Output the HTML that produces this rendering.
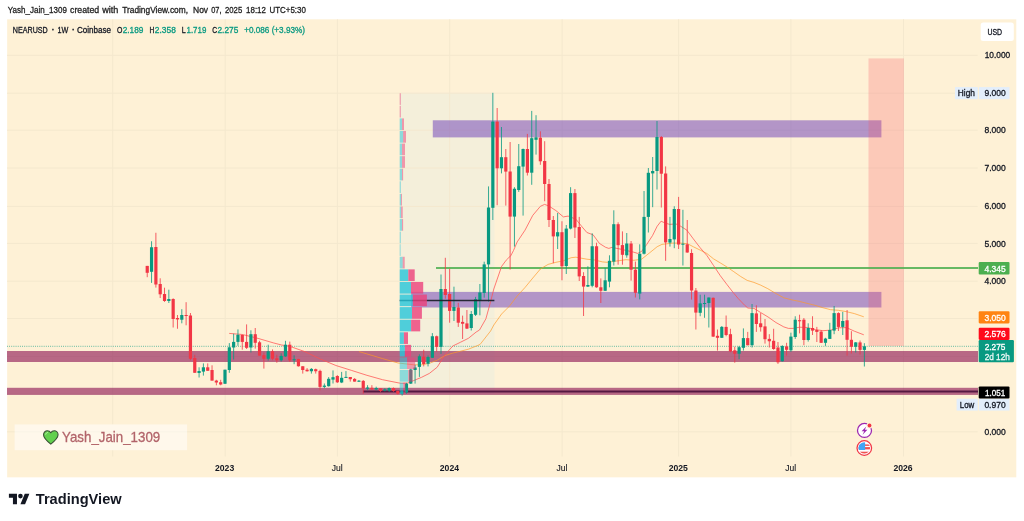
<!DOCTYPE html>
<html><head><meta charset="utf-8"><title>NEARUSD chart</title>
<style>html,body{margin:0;padding:0;background:#fff}body{width:1024px;height:521px;position:relative;overflow:hidden;font-family:"Liberation Sans",sans-serif}</style></head>
<body>
<svg width="1024" height="521" viewBox="0 0 1024 521" style="position:absolute;left:0;top:0;font-family:'Liberation Sans',sans-serif">
<rect x="7.15" y="19.3" width="1009.15" height="458.05" fill="#FEF1D6"/>
<rect x="399.7" y="92.8" width="94.8" height="302" fill="#F4EFDA"/>
<line x1="7" x2="977.7" y1="431.80" y2="431.80" stroke="#F4E8CE" stroke-width="1"/>
<line x1="7" x2="977.7" y1="394.10" y2="394.10" stroke="#F4E8CE" stroke-width="1"/>
<line x1="7" x2="977.7" y1="356.50" y2="356.50" stroke="#F4E8CE" stroke-width="1"/>
<line x1="7" x2="977.7" y1="318.50" y2="318.50" stroke="#F4E8CE" stroke-width="1"/>
<line x1="7" x2="977.7" y1="281.20" y2="281.20" stroke="#F4E8CE" stroke-width="1"/>
<line x1="7" x2="977.7" y1="243.40" y2="243.40" stroke="#F4E8CE" stroke-width="1"/>
<line x1="7" x2="977.7" y1="206.40" y2="206.40" stroke="#F4E8CE" stroke-width="1"/>
<line x1="7" x2="977.7" y1="168.00" y2="168.00" stroke="#F4E8CE" stroke-width="1"/>
<line x1="7" x2="977.7" y1="130.20" y2="130.20" stroke="#F4E8CE" stroke-width="1"/>
<line x1="7" x2="977.7" y1="93.20" y2="93.20" stroke="#F4E8CE" stroke-width="1"/>
<line x1="7" x2="977.7" y1="55.30" y2="55.30" stroke="#F4E8CE" stroke-width="1"/>
<line x1="112.7" x2="112.7" y1="19.3" y2="424.4" stroke="#F4E8CE" stroke-width="1"/>
<line x1="112.7" x2="112.7" y1="450.2" y2="456.5" stroke="#F4E8CE" stroke-width="1"/>
<line x1="225.2" x2="225.2" y1="19.3" y2="456.5" stroke="#F4E8CE" stroke-width="1"/>
<line x1="337.4" x2="337.4" y1="19.3" y2="456.5" stroke="#F4E8CE" stroke-width="1"/>
<line x1="449.7" x2="449.7" y1="19.3" y2="456.5" stroke="#F4E8CE" stroke-width="1"/>
<line x1="562.1" x2="562.1" y1="19.3" y2="456.5" stroke="#F4E8CE" stroke-width="1"/>
<line x1="678.6" x2="678.6" y1="19.3" y2="456.5" stroke="#F4E8CE" stroke-width="1"/>
<line x1="790.9" x2="790.9" y1="19.3" y2="456.5" stroke="#F4E8CE" stroke-width="1"/>
<line x1="903.5" x2="903.5" y1="19.3" y2="456.5" stroke="#F4E8CE" stroke-width="1"/>
<defs><clipPath id="pc"><rect x="7" y="19" width="971" height="437.5"/></clipPath></defs>
<g clip-path="url(#pc)">
<rect x="432.8" y="120.3" width="448.6" height="17.1" fill="#673AB7" fill-opacity="0.5"/>
<rect x="411.2" y="291.9" width="470.2" height="15.6" fill="#673AB7" fill-opacity="0.5"/>
<rect x="868.5" y="58.4" width="35.4" height="287.6" fill="#F7525F" fill-opacity="0.25"/>
<rect x="7" y="351" width="971" height="11" fill="#880E4F" fill-opacity="0.6"/>
<rect x="7" y="387.8" width="971" height="7.1" fill="#880E4F" fill-opacity="0.6"/>
<line x1="363" x2="978" y1="391.5" y2="391.5" stroke="#4A0F3A" stroke-opacity="0.9" stroke-width="2.2"/>
<line x1="436" x2="978" y1="268" y2="268" stroke="#4CAF50" stroke-opacity="0.85" stroke-width="2.1"/>
<line x1="7" x2="978" y1="346.3" y2="346.3" stroke="#089981" stroke-opacity="0.8" stroke-width="0.9" stroke-dasharray="0.85 1.31"/>
<polyline points="359.0,351.6 366.9,353.9 382.5,358.6 398.1,363.0 413.8,364.8 421.6,364.8 429.4,363.3 437.2,360.2 445.0,355.5 452.8,353.1 460.6,351.2 468.4,349.2 476.2,346.1 480.0,344.5 490.6,331.0 493.8,325.0 501.6,314.0 509.4,306.2 517.2,296.0 525.0,287.5 532.8,278.0 540.4,269.0 548.1,264.4 555.9,262.3 563.4,260.8 571.2,257.7 575.9,257.2 586.9,259.2 594.7,260.0 602.5,261.9 607.2,262.3 618.1,260.8 625.9,259.7 633.8,260.3 641.6,259.2 649.4,253.0 657.2,246.7 661.9,244.4 672.8,243.1 680.6,243.1 687.5,243.7 693.4,246.8 700.2,250.1 706.9,253.5 713.6,258.9 720.3,262.9 727.0,267.0 733.8,271.7 740.5,276.4 747.2,280.4 753.9,282.4 760.6,285.1 767.8,288.7 775.0,293.0 783.8,297.8 791.6,299.8 799.4,301.4 807.2,303.4 815.0,305.3 822.8,307.7 830.6,309.7 838.4,310.3 846.2,311.6 854.4,313.6 863.8,316.8" fill="none" stroke="#FF9826" stroke-width="0.85" stroke-linejoin="round" stroke-opacity="0.8"/>
<polyline points="229.2,333.4 242.5,334.5 258.1,338.4 273.8,343.0 281.6,345.0 289.4,346.2 305.0,351.7 320.3,359.0 335.9,365.5 351.2,370.3 366.9,375.3 382.5,379.7 398.1,382.8 401.2,383.3 407.5,383.1 413.8,380.5 421.6,377.3 429.4,373.4 437.2,367.2 445.0,354.7 452.8,346.0 460.6,342.2 468.4,338.3 476.2,332.0 479.5,330.0 485.9,318.8 490.6,301.6 493.8,289.0 501.6,266.4 506.2,260.2 510.9,255.5 513.5,250.5 517.2,241.9 525.0,230.2 532.8,215.3 540.4,206.3 544.6,204.4 548.9,206.0 555.9,210.6 563.4,216.9 568.1,216.1 575.9,219.2 582.2,227.0 586.9,232.5 593.1,234.8 599.4,243.4 605.6,247.3 608.8,248.4 611.9,247.4 620.0,249.0 633.8,252.2 637.7,253.4 641.6,251.4 646.7,244.5 652.5,235.6 657.2,226.2 661.1,221.2 665.0,223.0 669.7,224.4 675.9,223.9 680.6,226.2 686.9,230.2 693.2,238.7 700.1,247.7 706.9,255.5 713.6,265.6 720.3,275.7 727.0,284.6 733.0,292.3 738.0,298.3 744.7,305.3 747.8,308.0 754.0,308.4 760.3,312.3 768.1,317.0 775.9,322.5 783.8,326.9 788.4,328.4 793.1,328.4 799.6,327.2 807.2,327.5 815.3,329.6 823.0,330.7 830.8,330.1 838.6,327.8 846.5,327.6 854.4,331.2 863.8,334.8" fill="none" stroke="#FF5252" stroke-width="0.95" stroke-linejoin="round" stroke-opacity="0.8"/>
<line x1="147.24" x2="147.24" y1="265.90" y2="277.20" stroke="#F23645" stroke-width="1" stroke-opacity="0.8"/>
<rect x="145.64" y="265.90" width="3.2" height="6.90" fill="#F23645"/>
<line x1="151.56" x2="151.56" y1="241.25" y2="282.90" stroke="#089981" stroke-width="1" stroke-opacity="0.8"/>
<rect x="149.96" y="247.25" width="3.2" height="24.55" fill="#089981"/>
<line x1="155.88" x2="155.88" y1="232.75" y2="287.60" stroke="#F23645" stroke-width="1" stroke-opacity="0.8"/>
<rect x="154.28" y="247.00" width="3.2" height="37.50" fill="#F23645"/>
<line x1="160.20" x2="160.20" y1="278.30" y2="298.00" stroke="#F23645" stroke-width="1" stroke-opacity="0.8"/>
<rect x="158.60" y="284.00" width="3.2" height="10.30" fill="#F23645"/>
<line x1="164.52" x2="164.52" y1="287.70" y2="301.90" stroke="#F23645" stroke-width="1" stroke-opacity="0.8"/>
<rect x="162.92" y="294.00" width="3.2" height="7.00" fill="#F23645"/>
<line x1="168.84" x2="168.84" y1="289.70" y2="303.00" stroke="#089981" stroke-width="1" stroke-opacity="0.8"/>
<rect x="167.24" y="299.00" width="3.2" height="2.00" fill="#089981"/>
<line x1="173.16" x2="173.16" y1="298.30" y2="327.50" stroke="#F23645" stroke-width="1" stroke-opacity="0.8"/>
<rect x="171.56" y="299.00" width="3.2" height="20.00" fill="#F23645"/>
<line x1="177.48" x2="177.48" y1="315.00" y2="328.75" stroke="#F23645" stroke-width="1" stroke-opacity="0.8"/>
<rect x="175.88" y="318.00" width="3.2" height="1.40" fill="#F23645"/>
<line x1="181.80" x2="181.80" y1="309.20" y2="323.30" stroke="#089981" stroke-width="1" stroke-opacity="0.8"/>
<rect x="180.20" y="315.00" width="3.2" height="4.70" fill="#089981"/>
<line x1="186.12" x2="186.12" y1="302.20" y2="325.30" stroke="#F23645" stroke-width="1" stroke-opacity="0.8"/>
<rect x="184.52" y="315.00" width="3.2" height="1.00" fill="#F23645"/>
<line x1="190.44" x2="190.44" y1="313.00" y2="360.30" stroke="#F23645" stroke-width="1" stroke-opacity="0.8"/>
<rect x="188.84" y="315.50" width="3.2" height="43.25" fill="#F23645"/>
<line x1="194.76" x2="194.76" y1="354.80" y2="372.80" stroke="#F23645" stroke-width="1" stroke-opacity="0.8"/>
<rect x="193.16" y="358.00" width="3.2" height="14.80" fill="#F23645"/>
<line x1="199.08" x2="199.08" y1="367.30" y2="377.50" stroke="#089981" stroke-width="1" stroke-opacity="0.8"/>
<rect x="197.48" y="371.00" width="3.2" height="2.00" fill="#089981"/>
<line x1="203.40" x2="203.40" y1="363.40" y2="375.60" stroke="#089981" stroke-width="1" stroke-opacity="0.8"/>
<rect x="201.80" y="367.30" width="3.2" height="4.30" fill="#089981"/>
<line x1="207.72" x2="207.72" y1="363.40" y2="370.80" stroke="#F23645" stroke-width="1" stroke-opacity="0.8"/>
<rect x="206.12" y="367.30" width="3.2" height="3.50" fill="#F23645"/>
<line x1="212.04" x2="212.04" y1="365.30" y2="380.60" stroke="#F23645" stroke-width="1" stroke-opacity="0.8"/>
<rect x="210.44" y="370.00" width="3.2" height="10.60" fill="#F23645"/>
<line x1="216.36" x2="216.36" y1="379.80" y2="385.30" stroke="#F23645" stroke-width="1" stroke-opacity="0.8"/>
<rect x="214.76" y="380.60" width="3.2" height="1.90" fill="#F23645"/>
<line x1="220.68" x2="220.68" y1="379.80" y2="385.30" stroke="#F23645" stroke-width="1" stroke-opacity="0.8"/>
<rect x="219.08" y="382.20" width="3.2" height="2.30" fill="#F23645"/>
<line x1="225.00" x2="225.00" y1="369.70" y2="384.00" stroke="#089981" stroke-width="1" stroke-opacity="0.8"/>
<rect x="223.40" y="369.70" width="3.2" height="14.05" fill="#089981"/>
<line x1="229.32" x2="229.32" y1="343.10" y2="372.80" stroke="#089981" stroke-width="1" stroke-opacity="0.8"/>
<rect x="227.72" y="347.30" width="3.2" height="22.70" fill="#089981"/>
<line x1="233.64" x2="233.64" y1="333.75" y2="359.50" stroke="#089981" stroke-width="1" stroke-opacity="0.8"/>
<rect x="232.04" y="341.90" width="3.2" height="5.60" fill="#089981"/>
<line x1="237.96" x2="237.96" y1="329.40" y2="345.80" stroke="#089981" stroke-width="1" stroke-opacity="0.8"/>
<rect x="236.36" y="334.80" width="3.2" height="7.10" fill="#089981"/>
<line x1="242.28" x2="242.28" y1="334.50" y2="349.70" stroke="#F23645" stroke-width="1" stroke-opacity="0.8"/>
<rect x="240.68" y="335.00" width="3.2" height="6.90" fill="#F23645"/>
<line x1="246.60" x2="246.60" y1="324.40" y2="349.00" stroke="#F23645" stroke-width="1" stroke-opacity="0.8"/>
<rect x="245.00" y="341.90" width="3.2" height="5.90" fill="#F23645"/>
<line x1="250.92" x2="250.92" y1="330.30" y2="352.50" stroke="#089981" stroke-width="1" stroke-opacity="0.8"/>
<rect x="249.32" y="334.20" width="3.2" height="13.30" fill="#089981"/>
<line x1="255.24" x2="255.24" y1="328.00" y2="348.60" stroke="#F23645" stroke-width="1" stroke-opacity="0.8"/>
<rect x="253.64" y="334.20" width="3.2" height="8.60" fill="#F23645"/>
<line x1="259.56" x2="259.56" y1="340.80" y2="355.60" stroke="#F23645" stroke-width="1" stroke-opacity="0.8"/>
<rect x="257.96" y="342.30" width="3.2" height="13.30" fill="#F23645"/>
<line x1="263.88" x2="263.88" y1="352.50" y2="368.60" stroke="#F23645" stroke-width="1" stroke-opacity="0.8"/>
<rect x="262.28" y="355.20" width="3.2" height="3.55" fill="#F23645"/>
<line x1="268.20" x2="268.20" y1="344.70" y2="360.60" stroke="#089981" stroke-width="1" stroke-opacity="0.8"/>
<rect x="266.60" y="351.25" width="3.2" height="7.50" fill="#089981"/>
<line x1="272.52" x2="272.52" y1="349.40" y2="360.30" stroke="#F23645" stroke-width="1" stroke-opacity="0.8"/>
<rect x="270.92" y="351.25" width="3.2" height="7.50" fill="#F23645"/>
<line x1="276.84" x2="276.84" y1="354.80" y2="362.70" stroke="#F23645" stroke-width="1" stroke-opacity="0.8"/>
<rect x="275.24" y="358.30" width="3.2" height="2.00" fill="#F23645"/>
<line x1="281.16" x2="281.16" y1="353.30" y2="361.60" stroke="#089981" stroke-width="1" stroke-opacity="0.8"/>
<rect x="279.56" y="355.90" width="3.2" height="4.40" fill="#089981"/>
<line x1="285.48" x2="285.48" y1="340.80" y2="356.90" stroke="#089981" stroke-width="1" stroke-opacity="0.8"/>
<rect x="283.88" y="344.70" width="3.2" height="11.70" fill="#089981"/>
<line x1="289.80" x2="289.80" y1="341.60" y2="361.90" stroke="#F23645" stroke-width="1" stroke-opacity="0.8"/>
<rect x="288.20" y="344.70" width="3.2" height="15.60" fill="#F23645"/>
<line x1="294.12" x2="294.12" y1="355.30" y2="364.20" stroke="#089981" stroke-width="1" stroke-opacity="0.8"/>
<rect x="292.52" y="359.20" width="3.2" height="1.10" fill="#089981"/>
<line x1="298.44" x2="298.44" y1="358.75" y2="366.60" stroke="#F23645" stroke-width="1" stroke-opacity="0.8"/>
<rect x="296.84" y="359.00" width="3.2" height="7.25" fill="#F23645"/>
<line x1="302.76" x2="302.76" y1="366.25" y2="373.60" stroke="#F23645" stroke-width="1" stroke-opacity="0.8"/>
<rect x="301.16" y="366.25" width="3.2" height="3.75" fill="#F23645"/>
<line x1="307.08" x2="307.08" y1="368.10" y2="371.60" stroke="#F23645" stroke-width="1" stroke-opacity="0.8"/>
<rect x="305.48" y="369.70" width="3.2" height="1.55" fill="#F23645"/>
<line x1="311.40" x2="311.40" y1="368.10" y2="373.60" stroke="#089981" stroke-width="1" stroke-opacity="0.8"/>
<rect x="309.80" y="368.90" width="3.2" height="2.35" fill="#089981"/>
<line x1="315.72" x2="315.72" y1="368.60" y2="373.60" stroke="#F23645" stroke-width="1" stroke-opacity="0.8"/>
<rect x="314.12" y="369.20" width="3.2" height="2.05" fill="#F23645"/>
<line x1="320.04" x2="320.04" y1="369.70" y2="390.30" stroke="#F23645" stroke-width="1" stroke-opacity="0.8"/>
<rect x="318.44" y="370.90" width="3.2" height="16.00" fill="#F23645"/>
<line x1="324.36" x2="324.36" y1="383.50" y2="388.20" stroke="#089981" stroke-width="1" stroke-opacity="0.8"/>
<rect x="322.76" y="385.60" width="3.2" height="1.30" fill="#089981"/>
<line x1="328.68" x2="328.68" y1="377.10" y2="386.60" stroke="#089981" stroke-width="1" stroke-opacity="0.8"/>
<rect x="327.08" y="378.80" width="3.2" height="7.40" fill="#089981"/>
<line x1="333.00" x2="333.00" y1="370.40" y2="383.50" stroke="#089981" stroke-width="1" stroke-opacity="0.8"/>
<rect x="331.40" y="377.20" width="3.2" height="2.40" fill="#089981"/>
<line x1="337.32" x2="337.32" y1="375.10" y2="383.00" stroke="#F23645" stroke-width="1" stroke-opacity="0.8"/>
<rect x="335.72" y="376.00" width="3.2" height="6.30" fill="#F23645"/>
<line x1="341.64" x2="341.64" y1="371.90" y2="383.10" stroke="#089981" stroke-width="1" stroke-opacity="0.8"/>
<rect x="340.04" y="377.80" width="3.2" height="4.70" fill="#089981"/>
<line x1="345.96" x2="345.96" y1="371.10" y2="377.80" stroke="#089981" stroke-width="1" stroke-opacity="0.8"/>
<rect x="344.36" y="376.90" width="3.2" height="1.00" fill="#089981"/>
<line x1="350.28" x2="350.28" y1="377.00" y2="381.60" stroke="#F23645" stroke-width="1" stroke-opacity="0.8"/>
<rect x="348.68" y="377.00" width="3.2" height="2.20" fill="#F23645"/>
<line x1="354.60" x2="354.60" y1="378.10" y2="381.60" stroke="#F23645" stroke-width="1" stroke-opacity="0.8"/>
<rect x="353.00" y="378.90" width="3.2" height="2.70" fill="#F23645"/>
<line x1="358.92" x2="358.92" y1="380.00" y2="382.00" stroke="#089981" stroke-width="1" stroke-opacity="0.8"/>
<rect x="357.32" y="380.70" width="3.2" height="1.00" fill="#089981"/>
<line x1="363.24" x2="363.24" y1="380.00" y2="393.75" stroke="#F23645" stroke-width="1" stroke-opacity="0.8"/>
<rect x="361.64" y="380.90" width="3.2" height="7.40" fill="#F23645"/>
<line x1="367.56" x2="367.56" y1="385.20" y2="390.30" stroke="#089981" stroke-width="1" stroke-opacity="0.8"/>
<rect x="365.96" y="387.50" width="3.2" height="1.25" fill="#089981"/>
<line x1="371.88" x2="371.88" y1="385.20" y2="389.80" stroke="#F23645" stroke-width="1" stroke-opacity="0.8"/>
<rect x="370.28" y="387.80" width="3.2" height="1.60" fill="#F23645"/>
<line x1="376.20" x2="376.20" y1="386.70" y2="390.30" stroke="#089981" stroke-width="1" stroke-opacity="0.8"/>
<rect x="374.60" y="388.00" width="3.2" height="1.40" fill="#089981"/>
<line x1="380.52" x2="380.52" y1="388.30" y2="392.20" stroke="#F23645" stroke-width="1" stroke-opacity="0.8"/>
<rect x="378.92" y="388.30" width="3.2" height="2.70" fill="#F23645"/>
<line x1="384.84" x2="384.84" y1="388.30" y2="391.40" stroke="#089981" stroke-width="1" stroke-opacity="0.8"/>
<rect x="383.24" y="389.40" width="3.2" height="1.20" fill="#089981"/>
<line x1="389.16" x2="389.16" y1="387.50" y2="391.90" stroke="#089981" stroke-width="1" stroke-opacity="0.8"/>
<rect x="387.56" y="388.00" width="3.2" height="2.60" fill="#089981"/>
<line x1="393.48" x2="393.48" y1="387.50" y2="391.90" stroke="#F23645" stroke-width="1" stroke-opacity="0.8"/>
<rect x="391.88" y="388.00" width="3.2" height="3.00" fill="#F23645"/>
<line x1="397.80" x2="397.80" y1="390.60" y2="394.50" stroke="#F23645" stroke-width="1" stroke-opacity="0.8"/>
<rect x="396.20" y="391.00" width="3.2" height="2.75" fill="#F23645"/>
<line x1="402.12" x2="402.12" y1="390.30" y2="395.60" stroke="#089981" stroke-width="1" stroke-opacity="0.8"/>
<rect x="400.52" y="391.40" width="3.2" height="2.35" fill="#089981"/>
<line x1="406.44" x2="406.44" y1="382.80" y2="393.75" stroke="#089981" stroke-width="1" stroke-opacity="0.8"/>
<rect x="404.84" y="383.60" width="3.2" height="8.90" fill="#089981"/>
<line x1="410.76" x2="410.76" y1="368.75" y2="384.00" stroke="#089981" stroke-width="1" stroke-opacity="0.8"/>
<rect x="409.16" y="369.50" width="3.2" height="14.10" fill="#089981"/>
<line x1="415.08" x2="415.08" y1="364.80" y2="383.60" stroke="#089981" stroke-width="1" stroke-opacity="0.8"/>
<rect x="413.48" y="367.50" width="3.2" height="2.50" fill="#089981"/>
<line x1="419.40" x2="419.40" y1="354.40" y2="376.90" stroke="#089981" stroke-width="1" stroke-opacity="0.8"/>
<rect x="417.80" y="356.25" width="3.2" height="10.65" fill="#089981"/>
<line x1="423.72" x2="423.72" y1="349.70" y2="366.40" stroke="#F23645" stroke-width="1" stroke-opacity="0.8"/>
<rect x="422.12" y="356.70" width="3.2" height="7.30" fill="#F23645"/>
<line x1="428.04" x2="428.04" y1="355.50" y2="366.40" stroke="#089981" stroke-width="1" stroke-opacity="0.8"/>
<rect x="426.44" y="357.00" width="3.2" height="6.75" fill="#089981"/>
<line x1="432.36" x2="432.36" y1="333.10" y2="357.80" stroke="#089981" stroke-width="1" stroke-opacity="0.8"/>
<rect x="430.76" y="336.25" width="3.2" height="21.55" fill="#089981"/>
<line x1="436.68" x2="436.68" y1="335.60" y2="351.60" stroke="#F23645" stroke-width="1" stroke-opacity="0.8"/>
<rect x="435.08" y="336.25" width="3.2" height="10.65" fill="#F23645"/>
<line x1="441.00" x2="441.00" y1="274.50" y2="353.90" stroke="#089981" stroke-width="1" stroke-opacity="0.8"/>
<rect x="439.40" y="289.00" width="3.2" height="57.90" fill="#089981"/>
<line x1="445.32" x2="445.32" y1="257.80" y2="298.75" stroke="#F23645" stroke-width="1" stroke-opacity="0.8"/>
<rect x="443.72" y="289.00" width="3.2" height="6.00" fill="#F23645"/>
<line x1="449.64" x2="449.64" y1="268.75" y2="322.70" stroke="#F23645" stroke-width="1" stroke-opacity="0.8"/>
<rect x="448.04" y="294.00" width="3.2" height="16.90" fill="#F23645"/>
<line x1="453.96" x2="453.96" y1="286.70" y2="321.00" stroke="#089981" stroke-width="1" stroke-opacity="0.8"/>
<rect x="452.36" y="307.00" width="3.2" height="3.90" fill="#089981"/>
<line x1="458.28" x2="458.28" y1="302.80" y2="326.90" stroke="#F23645" stroke-width="1" stroke-opacity="0.8"/>
<rect x="456.68" y="307.50" width="3.2" height="15.20" fill="#F23645"/>
<line x1="462.60" x2="462.60" y1="315.60" y2="339.00" stroke="#F23645" stroke-width="1" stroke-opacity="0.8"/>
<rect x="461.00" y="321.90" width="3.2" height="1.85" fill="#F23645"/>
<line x1="466.92" x2="466.92" y1="310.00" y2="329.00" stroke="#F23645" stroke-width="1" stroke-opacity="0.8"/>
<rect x="465.32" y="323.40" width="3.2" height="5.20" fill="#F23645"/>
<line x1="471.24" x2="471.24" y1="311.00" y2="330.50" stroke="#089981" stroke-width="1" stroke-opacity="0.8"/>
<rect x="469.64" y="314.00" width="3.2" height="14.00" fill="#089981"/>
<line x1="475.56" x2="475.56" y1="296.90" y2="316.00" stroke="#089981" stroke-width="1" stroke-opacity="0.8"/>
<rect x="473.96" y="299.20" width="3.2" height="15.60" fill="#089981"/>
<line x1="479.88" x2="479.88" y1="284.00" y2="315.30" stroke="#089981" stroke-width="1" stroke-opacity="0.8"/>
<rect x="478.28" y="292.50" width="3.2" height="7.50" fill="#089981"/>
<line x1="484.20" x2="484.20" y1="261.70" y2="297.70" stroke="#089981" stroke-width="1" stroke-opacity="0.8"/>
<rect x="482.60" y="264.40" width="3.2" height="28.60" fill="#089981"/>
<line x1="488.52" x2="488.52" y1="186.40" y2="301.60" stroke="#089981" stroke-width="1" stroke-opacity="0.8"/>
<rect x="486.92" y="207.50" width="3.2" height="56.90" fill="#089981"/>
<line x1="492.84" x2="492.84" y1="92.80" y2="220.00" stroke="#089981" stroke-width="1" stroke-opacity="0.8"/>
<rect x="491.24" y="121.60" width="3.2" height="86.20" fill="#089981"/>
<line x1="497.16" x2="497.16" y1="108.00" y2="205.20" stroke="#F23645" stroke-width="1" stroke-opacity="0.8"/>
<rect x="495.56" y="121.60" width="3.2" height="46.70" fill="#F23645"/>
<line x1="501.48" x2="501.48" y1="127.00" y2="173.40" stroke="#089981" stroke-width="1" stroke-opacity="0.8"/>
<rect x="499.88" y="157.20" width="3.2" height="11.10" fill="#089981"/>
<line x1="505.80" x2="505.80" y1="149.00" y2="205.60" stroke="#F23645" stroke-width="1" stroke-opacity="0.8"/>
<rect x="504.20" y="157.20" width="3.2" height="14.40" fill="#F23645"/>
<line x1="510.12" x2="510.12" y1="142.00" y2="269.50" stroke="#F23645" stroke-width="1" stroke-opacity="0.8"/>
<rect x="508.52" y="171.50" width="3.2" height="45.10" fill="#F23645"/>
<line x1="514.44" x2="514.44" y1="187.20" y2="246.60" stroke="#089981" stroke-width="1" stroke-opacity="0.8"/>
<rect x="512.84" y="188.75" width="3.2" height="27.85" fill="#089981"/>
<line x1="518.76" x2="518.76" y1="144.00" y2="191.90" stroke="#089981" stroke-width="1" stroke-opacity="0.8"/>
<rect x="517.16" y="166.20" width="3.2" height="23.80" fill="#089981"/>
<line x1="523.08" x2="523.08" y1="148.60" y2="215.60" stroke="#089981" stroke-width="1" stroke-opacity="0.8"/>
<rect x="521.48" y="149.00" width="3.2" height="17.60" fill="#089981"/>
<line x1="527.40" x2="527.40" y1="133.90" y2="175.50" stroke="#F23645" stroke-width="1" stroke-opacity="0.8"/>
<rect x="525.80" y="149.00" width="3.2" height="23.70" fill="#F23645"/>
<line x1="531.72" x2="531.72" y1="110.90" y2="184.80" stroke="#089981" stroke-width="1" stroke-opacity="0.8"/>
<rect x="530.12" y="138.20" width="3.2" height="34.50" fill="#089981"/>
<line x1="536.04" x2="536.04" y1="115.20" y2="154.60" stroke="#089981" stroke-width="1" stroke-opacity="0.8"/>
<rect x="534.44" y="137.40" width="3.2" height="2.40" fill="#089981"/>
<line x1="540.36" x2="540.36" y1="131.30" y2="164.80" stroke="#F23645" stroke-width="1" stroke-opacity="0.8"/>
<rect x="538.76" y="137.70" width="3.2" height="23.60" fill="#F23645"/>
<line x1="544.68" x2="544.68" y1="141.20" y2="201.25" stroke="#F23645" stroke-width="1" stroke-opacity="0.8"/>
<rect x="543.08" y="161.00" width="3.2" height="23.00" fill="#F23645"/>
<line x1="549.00" x2="549.00" y1="179.00" y2="227.00" stroke="#F23645" stroke-width="1" stroke-opacity="0.8"/>
<rect x="547.40" y="184.00" width="3.2" height="36.00" fill="#F23645"/>
<line x1="553.32" x2="553.32" y1="216.00" y2="263.20" stroke="#F23645" stroke-width="1" stroke-opacity="0.8"/>
<rect x="551.72" y="220.00" width="3.2" height="16.40" fill="#F23645"/>
<line x1="557.64" x2="557.64" y1="213.00" y2="249.00" stroke="#089981" stroke-width="1" stroke-opacity="0.8"/>
<rect x="556.04" y="232.20" width="3.2" height="4.20" fill="#089981"/>
<line x1="561.96" x2="561.96" y1="221.25" y2="280.30" stroke="#F23645" stroke-width="1" stroke-opacity="0.8"/>
<rect x="560.36" y="232.20" width="3.2" height="34.05" fill="#F23645"/>
<line x1="566.28" x2="566.28" y1="225.00" y2="274.00" stroke="#089981" stroke-width="1" stroke-opacity="0.8"/>
<rect x="564.68" y="228.60" width="3.2" height="37.40" fill="#089981"/>
<line x1="570.60" x2="570.60" y1="187.20" y2="229.40" stroke="#089981" stroke-width="1" stroke-opacity="0.8"/>
<rect x="569.00" y="193.10" width="3.2" height="35.50" fill="#089981"/>
<line x1="574.92" x2="574.92" y1="189.00" y2="238.00" stroke="#F23645" stroke-width="1" stroke-opacity="0.8"/>
<rect x="573.32" y="193.10" width="3.2" height="34.40" fill="#F23645"/>
<line x1="579.24" x2="579.24" y1="216.90" y2="281.00" stroke="#F23645" stroke-width="1" stroke-opacity="0.8"/>
<rect x="577.64" y="227.00" width="3.2" height="49.40" fill="#F23645"/>
<line x1="583.56" x2="583.56" y1="272.20" y2="316.00" stroke="#F23645" stroke-width="1" stroke-opacity="0.8"/>
<rect x="581.96" y="276.00" width="3.2" height="10.60" fill="#F23645"/>
<line x1="587.88" x2="587.88" y1="266.25" y2="287.00" stroke="#089981" stroke-width="1" stroke-opacity="0.8"/>
<rect x="586.28" y="285.00" width="3.2" height="1.60" fill="#089981"/>
<line x1="592.20" x2="592.20" y1="233.30" y2="287.30" stroke="#089981" stroke-width="1" stroke-opacity="0.8"/>
<rect x="590.60" y="246.25" width="3.2" height="39.55" fill="#089981"/>
<line x1="596.52" x2="596.52" y1="242.70" y2="287.80" stroke="#F23645" stroke-width="1" stroke-opacity="0.8"/>
<rect x="594.92" y="246.25" width="3.2" height="41.05" fill="#F23645"/>
<line x1="600.84" x2="600.84" y1="278.40" y2="303.00" stroke="#F23645" stroke-width="1" stroke-opacity="0.8"/>
<rect x="599.24" y="287.30" width="3.2" height="3.50" fill="#F23645"/>
<line x1="605.16" x2="605.16" y1="267.80" y2="291.00" stroke="#089981" stroke-width="1" stroke-opacity="0.8"/>
<rect x="603.56" y="280.30" width="3.2" height="10.50" fill="#089981"/>
<line x1="609.48" x2="609.48" y1="255.30" y2="287.30" stroke="#089981" stroke-width="1" stroke-opacity="0.8"/>
<rect x="607.88" y="260.80" width="3.2" height="20.80" fill="#089981"/>
<line x1="613.80" x2="613.80" y1="210.30" y2="265.50" stroke="#089981" stroke-width="1" stroke-opacity="0.8"/>
<rect x="612.20" y="224.20" width="3.2" height="37.40" fill="#089981"/>
<line x1="618.12" x2="618.12" y1="222.30" y2="264.70" stroke="#F23645" stroke-width="1" stroke-opacity="0.8"/>
<rect x="616.52" y="224.20" width="3.2" height="21.00" fill="#F23645"/>
<line x1="622.44" x2="622.44" y1="231.40" y2="264.70" stroke="#F23645" stroke-width="1" stroke-opacity="0.8"/>
<rect x="620.84" y="245.10" width="3.2" height="9.70" fill="#F23645"/>
<line x1="626.76" x2="626.76" y1="233.00" y2="257.70" stroke="#089981" stroke-width="1" stroke-opacity="0.8"/>
<rect x="625.16" y="243.50" width="3.2" height="11.80" fill="#089981"/>
<line x1="631.08" x2="631.08" y1="241.00" y2="280.60" stroke="#F23645" stroke-width="1" stroke-opacity="0.8"/>
<rect x="629.48" y="243.50" width="3.2" height="26.20" fill="#F23645"/>
<line x1="635.40" x2="635.40" y1="261.60" y2="297.50" stroke="#F23645" stroke-width="1" stroke-opacity="0.8"/>
<rect x="633.80" y="269.70" width="3.2" height="23.10" fill="#F23645"/>
<line x1="639.72" x2="639.72" y1="244.30" y2="299.40" stroke="#089981" stroke-width="1" stroke-opacity="0.8"/>
<rect x="638.12" y="253.75" width="3.2" height="39.85" fill="#089981"/>
<line x1="644.04" x2="644.04" y1="191.00" y2="254.50" stroke="#089981" stroke-width="1" stroke-opacity="0.8"/>
<rect x="642.44" y="216.90" width="3.2" height="36.85" fill="#089981"/>
<line x1="648.36" x2="648.36" y1="168.00" y2="232.50" stroke="#089981" stroke-width="1" stroke-opacity="0.8"/>
<rect x="646.76" y="172.80" width="3.2" height="44.10" fill="#089981"/>
<line x1="652.68" x2="652.68" y1="157.00" y2="207.20" stroke="#089981" stroke-width="1" stroke-opacity="0.8"/>
<rect x="651.08" y="171.00" width="3.2" height="2.40" fill="#089981"/>
<line x1="657.00" x2="657.00" y1="121.00" y2="189.50" stroke="#089981" stroke-width="1" stroke-opacity="0.8"/>
<rect x="655.40" y="137.00" width="3.2" height="34.00" fill="#089981"/>
<line x1="661.32" x2="661.32" y1="136.00" y2="207.50" stroke="#F23645" stroke-width="1" stroke-opacity="0.8"/>
<rect x="659.72" y="137.00" width="3.2" height="36.70" fill="#F23645"/>
<line x1="665.64" x2="665.64" y1="166.40" y2="260.80" stroke="#F23645" stroke-width="1" stroke-opacity="0.8"/>
<rect x="664.04" y="173.50" width="3.2" height="68.90" fill="#F23645"/>
<line x1="669.96" x2="669.96" y1="216.90" y2="246.60" stroke="#089981" stroke-width="1" stroke-opacity="0.8"/>
<rect x="668.36" y="239.00" width="3.2" height="3.60" fill="#089981"/>
<line x1="674.28" x2="674.28" y1="206.25" y2="248.20" stroke="#089981" stroke-width="1" stroke-opacity="0.8"/>
<rect x="672.68" y="209.00" width="3.2" height="30.40" fill="#089981"/>
<line x1="678.60" x2="678.60" y1="196.90" y2="249.00" stroke="#F23645" stroke-width="1" stroke-opacity="0.8"/>
<rect x="677.00" y="209.00" width="3.2" height="35.50" fill="#F23645"/>
<line x1="682.92" x2="682.92" y1="209.80" y2="265.50" stroke="#089981" stroke-width="1" stroke-opacity="0.8"/>
<rect x="681.32" y="243.70" width="3.2" height="1.00" fill="#089981"/>
<line x1="687.24" x2="687.24" y1="220.00" y2="252.80" stroke="#F23645" stroke-width="1" stroke-opacity="0.8"/>
<rect x="685.64" y="244.30" width="3.2" height="8.20" fill="#F23645"/>
<line x1="691.56" x2="691.56" y1="249.20" y2="299.60" stroke="#F23645" stroke-width="1" stroke-opacity="0.8"/>
<rect x="689.96" y="253.00" width="3.2" height="37.50" fill="#F23645"/>
<line x1="695.88" x2="695.88" y1="288.00" y2="329.50" stroke="#F23645" stroke-width="1" stroke-opacity="0.8"/>
<rect x="694.28" y="290.50" width="3.2" height="22.10" fill="#F23645"/>
<line x1="700.20" x2="700.20" y1="294.70" y2="316.25" stroke="#089981" stroke-width="1" stroke-opacity="0.8"/>
<rect x="698.60" y="303.40" width="3.2" height="9.40" fill="#089981"/>
<line x1="704.52" x2="704.52" y1="294.70" y2="317.80" stroke="#089981" stroke-width="1" stroke-opacity="0.8"/>
<rect x="702.92" y="303.00" width="3.2" height="1.00" fill="#089981"/>
<line x1="708.84" x2="708.84" y1="297.50" y2="327.50" stroke="#089981" stroke-width="1" stroke-opacity="0.8"/>
<rect x="707.24" y="297.50" width="3.2" height="5.50" fill="#089981"/>
<line x1="713.16" x2="713.16" y1="297.50" y2="337.00" stroke="#F23645" stroke-width="1" stroke-opacity="0.8"/>
<rect x="711.56" y="297.80" width="3.2" height="38.80" fill="#F23645"/>
<line x1="717.48" x2="717.48" y1="329.50" y2="350.60" stroke="#F23645" stroke-width="1" stroke-opacity="0.8"/>
<rect x="715.88" y="335.80" width="3.2" height="2.00" fill="#F23645"/>
<line x1="721.80" x2="721.80" y1="326.00" y2="338.00" stroke="#089981" stroke-width="1" stroke-opacity="0.8"/>
<rect x="720.20" y="326.90" width="3.2" height="10.90" fill="#089981"/>
<line x1="726.12" x2="726.12" y1="315.50" y2="336.25" stroke="#F23645" stroke-width="1" stroke-opacity="0.8"/>
<rect x="724.52" y="326.90" width="3.2" height="8.10" fill="#F23645"/>
<line x1="730.44" x2="730.44" y1="328.75" y2="352.20" stroke="#F23645" stroke-width="1" stroke-opacity="0.8"/>
<rect x="728.84" y="334.20" width="3.2" height="17.20" fill="#F23645"/>
<line x1="734.76" x2="734.76" y1="346.70" y2="362.70" stroke="#F23645" stroke-width="1" stroke-opacity="0.8"/>
<rect x="733.16" y="350.30" width="3.2" height="3.45" fill="#F23645"/>
<line x1="739.08" x2="739.08" y1="345.90" y2="359.20" stroke="#089981" stroke-width="1" stroke-opacity="0.8"/>
<rect x="737.48" y="347.20" width="3.2" height="6.55" fill="#089981"/>
<line x1="743.40" x2="743.40" y1="328.40" y2="350.60" stroke="#089981" stroke-width="1" stroke-opacity="0.8"/>
<rect x="741.80" y="338.10" width="3.2" height="9.70" fill="#089981"/>
<line x1="747.72" x2="747.72" y1="331.90" y2="345.40" stroke="#F23645" stroke-width="1" stroke-opacity="0.8"/>
<rect x="746.12" y="338.10" width="3.2" height="7.10" fill="#F23645"/>
<line x1="752.04" x2="752.04" y1="304.00" y2="347.50" stroke="#089981" stroke-width="1" stroke-opacity="0.8"/>
<rect x="750.44" y="313.10" width="3.2" height="32.10" fill="#089981"/>
<line x1="756.36" x2="756.36" y1="305.30" y2="331.90" stroke="#F23645" stroke-width="1" stroke-opacity="0.8"/>
<rect x="754.76" y="313.40" width="3.2" height="10.60" fill="#F23645"/>
<line x1="760.68" x2="760.68" y1="313.10" y2="331.60" stroke="#F23645" stroke-width="1" stroke-opacity="0.8"/>
<rect x="759.08" y="323.30" width="3.2" height="3.90" fill="#F23645"/>
<line x1="765.00" x2="765.00" y1="319.00" y2="343.60" stroke="#F23645" stroke-width="1" stroke-opacity="0.8"/>
<rect x="763.40" y="326.40" width="3.2" height="12.80" fill="#F23645"/>
<line x1="769.32" x2="769.32" y1="334.20" y2="347.50" stroke="#F23645" stroke-width="1" stroke-opacity="0.8"/>
<rect x="767.72" y="338.90" width="3.2" height="2.35" fill="#F23645"/>
<line x1="773.64" x2="773.64" y1="328.75" y2="349.80" stroke="#F23645" stroke-width="1" stroke-opacity="0.8"/>
<rect x="772.04" y="340.80" width="3.2" height="8.20" fill="#F23645"/>
<line x1="777.96" x2="777.96" y1="342.00" y2="363.90" stroke="#F23645" stroke-width="1" stroke-opacity="0.8"/>
<rect x="776.36" y="347.50" width="3.2" height="14.80" fill="#F23645"/>
<line x1="782.28" x2="782.28" y1="345.20" y2="361.60" stroke="#089981" stroke-width="1" stroke-opacity="0.8"/>
<rect x="780.68" y="346.00" width="3.2" height="15.25" fill="#089981"/>
<line x1="786.60" x2="786.60" y1="342.80" y2="355.60" stroke="#F23645" stroke-width="1" stroke-opacity="0.8"/>
<rect x="785.00" y="346.40" width="3.2" height="3.40" fill="#F23645"/>
<line x1="790.92" x2="790.92" y1="332.70" y2="351.90" stroke="#089981" stroke-width="1" stroke-opacity="0.8"/>
<rect x="789.32" y="336.60" width="3.2" height="13.70" fill="#089981"/>
<line x1="795.24" x2="795.24" y1="316.25" y2="338.90" stroke="#089981" stroke-width="1" stroke-opacity="0.8"/>
<rect x="793.64" y="319.70" width="3.2" height="17.30" fill="#089981"/>
<line x1="799.56" x2="799.56" y1="314.70" y2="333.40" stroke="#F23645" stroke-width="1" stroke-opacity="0.8"/>
<rect x="797.96" y="320.20" width="3.2" height="1.05" fill="#F23645"/>
<line x1="803.88" x2="803.88" y1="318.00" y2="345.20" stroke="#F23645" stroke-width="1" stroke-opacity="0.8"/>
<rect x="802.28" y="319.70" width="3.2" height="20.30" fill="#F23645"/>
<line x1="808.20" x2="808.20" y1="323.30" y2="341.60" stroke="#089981" stroke-width="1" stroke-opacity="0.8"/>
<rect x="806.60" y="328.00" width="3.2" height="12.00" fill="#089981"/>
<line x1="812.52" x2="812.52" y1="316.25" y2="335.00" stroke="#F23645" stroke-width="1" stroke-opacity="0.8"/>
<rect x="810.92" y="328.00" width="3.2" height="2.60" fill="#F23645"/>
<line x1="816.84" x2="816.84" y1="326.90" y2="342.00" stroke="#F23645" stroke-width="1" stroke-opacity="0.8"/>
<rect x="815.24" y="330.00" width="3.2" height="1.90" fill="#F23645"/>
<line x1="821.16" x2="821.16" y1="330.30" y2="343.00" stroke="#F23645" stroke-width="1" stroke-opacity="0.8"/>
<rect x="819.56" y="331.60" width="3.2" height="11.20" fill="#F23645"/>
<line x1="825.48" x2="825.48" y1="337.80" y2="345.90" stroke="#089981" stroke-width="1" stroke-opacity="0.8"/>
<rect x="823.88" y="338.60" width="3.2" height="4.20" fill="#089981"/>
<line x1="829.80" x2="829.80" y1="322.80" y2="339.00" stroke="#089981" stroke-width="1" stroke-opacity="0.8"/>
<rect x="828.20" y="330.00" width="3.2" height="8.90" fill="#089981"/>
<line x1="834.12" x2="834.12" y1="306.00" y2="334.20" stroke="#089981" stroke-width="1" stroke-opacity="0.8"/>
<rect x="832.52" y="313.10" width="3.2" height="17.50" fill="#089981"/>
<line x1="838.44" x2="838.44" y1="312.30" y2="331.00" stroke="#F23645" stroke-width="1" stroke-opacity="0.8"/>
<rect x="836.84" y="313.10" width="3.2" height="13.80" fill="#F23645"/>
<line x1="842.76" x2="842.76" y1="311.90" y2="335.00" stroke="#089981" stroke-width="1" stroke-opacity="0.8"/>
<rect x="841.16" y="321.00" width="3.2" height="5.90" fill="#089981"/>
<line x1="847.08" x2="847.08" y1="310.00" y2="355.60" stroke="#F23645" stroke-width="1" stroke-opacity="0.8"/>
<rect x="845.48" y="320.30" width="3.2" height="19.50" fill="#F23645"/>
<line x1="851.40" x2="851.40" y1="331.20" y2="353.50" stroke="#F23645" stroke-width="1" stroke-opacity="0.8"/>
<rect x="849.80" y="339.80" width="3.2" height="7.00" fill="#F23645"/>
<line x1="855.72" x2="855.72" y1="342.00" y2="352.50" stroke="#089981" stroke-width="1" stroke-opacity="0.8"/>
<rect x="854.12" y="342.40" width="3.2" height="4.40" fill="#089981"/>
<line x1="860.04" x2="860.04" y1="340.50" y2="354.50" stroke="#F23645" stroke-width="1" stroke-opacity="0.8"/>
<rect x="858.44" y="342.40" width="3.2" height="7.50" fill="#F23645"/>
<line x1="864.36" x2="864.36" y1="343.20" y2="366.50" stroke="#089981" stroke-width="1" stroke-opacity="0.8"/>
<rect x="862.76" y="346.30" width="3.2" height="3.60" fill="#089981"/>
<line x1="399.7" x2="494.4" y1="300.6" y2="300.6" stroke="#1E222D" stroke-opacity="0.95" stroke-width="1.5"/>
<rect x="399.7" y="93.25" width="1.10" height="11.68" fill="#EC407A" fill-opacity="0.5"/>
<rect x="399.7" y="105.83" width="1.10" height="11.68" fill="#EC407A" fill-opacity="0.5"/>
<rect x="399.7" y="118.41" width="2.30" height="11.68" fill="#26C6DA" fill-opacity="0.5"/>
<rect x="402" y="118.41" width="2.00" height="11.68" fill="#EC407A" fill-opacity="0.5"/>
<rect x="399.7" y="130.99" width="3.40" height="11.68" fill="#26C6DA" fill-opacity="0.5"/>
<rect x="403.1" y="130.99" width="2.90" height="11.68" fill="#EC407A" fill-opacity="0.5"/>
<rect x="399.7" y="143.57" width="2.30" height="11.68" fill="#26C6DA" fill-opacity="0.5"/>
<rect x="402" y="143.57" width="3.00" height="11.68" fill="#EC407A" fill-opacity="0.5"/>
<rect x="399.7" y="156.15" width="2.30" height="11.68" fill="#26C6DA" fill-opacity="0.5"/>
<rect x="402" y="156.15" width="3.00" height="11.68" fill="#EC407A" fill-opacity="0.5"/>
<rect x="399.7" y="168.73" width="2.30" height="11.68" fill="#26C6DA" fill-opacity="0.5"/>
<rect x="402" y="168.73" width="1.10" height="11.68" fill="#EC407A" fill-opacity="0.5"/>
<rect x="399.7" y="181.31" width="1.10" height="11.68" fill="#26C6DA" fill-opacity="0.5"/>
<rect x="399.7" y="193.89" width="1.40" height="11.68" fill="#26C6DA" fill-opacity="0.5"/>
<rect x="401.1" y="193.89" width="0.90" height="11.68" fill="#EC407A" fill-opacity="0.5"/>
<rect x="399.7" y="206.47" width="1.40" height="11.68" fill="#26C6DA" fill-opacity="0.5"/>
<rect x="401.1" y="206.47" width="1.60" height="11.68" fill="#EC407A" fill-opacity="0.5"/>
<rect x="399.7" y="219.05" width="2.30" height="11.68" fill="#26C6DA" fill-opacity="0.5"/>
<rect x="402" y="219.05" width="1.10" height="11.68" fill="#EC407A" fill-opacity="0.5"/>
<rect x="399.7" y="231.63" width="1.10" height="11.68" fill="#26C6DA" fill-opacity="0.5"/>
<rect x="399.7" y="244.21" width="0.90" height="11.68" fill="#26C6DA" fill-opacity="0.5"/>
<rect x="399.7" y="256.79" width="3.00" height="11.68" fill="#26C6DA" fill-opacity="0.5"/>
<rect x="402.7" y="256.79" width="2.00" height="11.68" fill="#EC407A" fill-opacity="0.5"/>
<rect x="399.7" y="269.37" width="8.60" height="11.68" fill="#26C6DA" fill-opacity="0.8"/>
<rect x="408.3" y="269.37" width="6.40" height="11.68" fill="#EC407A" fill-opacity="0.8"/>
<rect x="399.7" y="281.95" width="11.30" height="11.68" fill="#26C6DA" fill-opacity="0.8"/>
<rect x="411" y="281.95" width="12.20" height="11.68" fill="#EC407A" fill-opacity="0.8"/>
<rect x="399.7" y="294.53" width="13.10" height="11.68" fill="#26C6DA" fill-opacity="0.8"/>
<rect x="412.8" y="294.53" width="14.10" height="11.68" fill="#EC407A" fill-opacity="0.8"/>
<rect x="399.7" y="307.11" width="12.30" height="11.68" fill="#26C6DA" fill-opacity="0.8"/>
<rect x="412" y="307.11" width="9.90" height="11.68" fill="#EC407A" fill-opacity="0.8"/>
<rect x="399.7" y="319.69" width="11.40" height="11.68" fill="#26C6DA" fill-opacity="0.8"/>
<rect x="411.1" y="319.69" width="9.10" height="11.68" fill="#EC407A" fill-opacity="0.8"/>
<rect x="399.7" y="332.27" width="4.20" height="11.68" fill="#26C6DA" fill-opacity="0.8"/>
<rect x="403.9" y="332.27" width="4.10" height="11.68" fill="#EC407A" fill-opacity="0.8"/>
<rect x="399.7" y="344.85" width="5.20" height="11.68" fill="#26C6DA" fill-opacity="0.8"/>
<rect x="404.9" y="344.85" width="6.20" height="11.68" fill="#EC407A" fill-opacity="0.8"/>
<rect x="399.7" y="357.43" width="7.30" height="11.68" fill="#26C6DA" fill-opacity="0.5"/>
<rect x="407" y="357.43" width="8.20" height="11.68" fill="#EC407A" fill-opacity="0.5"/>
<rect x="399.7" y="370.01" width="8.50" height="11.68" fill="#26C6DA" fill-opacity="0.5"/>
<rect x="408.2" y="370.01" width="4.40" height="11.68" fill="#EC407A" fill-opacity="0.5"/>
<rect x="399.7" y="382.59" width="3.50" height="11.68" fill="#26C6DA" fill-opacity="0.5"/>
<rect x="403.2" y="382.59" width="2.40" height="11.68" fill="#EC407A" fill-opacity="0.5"/>
</g>
<text y="13.3" font-size="9.2" fill="#222" stroke="#222" stroke-width="0.3" xml:space="preserve"><tspan x="7.8" textLength="59.1" lengthAdjust="spacingAndGlyphs">Yash_Jain_1309</tspan> <tspan x="70.0" textLength="29.2" lengthAdjust="spacingAndGlyphs">created</tspan> <tspan x="102.3" textLength="16.1" lengthAdjust="spacingAndGlyphs">with</tspan> <tspan x="122.2" textLength="65.8" lengthAdjust="spacingAndGlyphs">TradingView.com,</tspan> <tspan x="193.0" textLength="15.1" lengthAdjust="spacingAndGlyphs">Nov</tspan> <tspan x="211.2" textLength="10.3" lengthAdjust="spacingAndGlyphs">07,</tspan> <tspan x="225.0" textLength="17.2" lengthAdjust="spacingAndGlyphs">2025</tspan> <tspan x="246.1" textLength="19.8" lengthAdjust="spacingAndGlyphs">18:12</tspan> <tspan x="269.5" textLength="36.4" lengthAdjust="spacingAndGlyphs">UTC+5:30</tspan></text>
<text y="32.9" font-size="8.8" fill="#131722" stroke="#131722" stroke-width="0.3" xml:space="preserve"><tspan x="12.8" textLength="34.9" lengthAdjust="spacingAndGlyphs">NEARUSD</tspan> <tspan x="51.0" font-size="11.5">·</tspan> <tspan x="57.5" textLength="10.8" lengthAdjust="spacingAndGlyphs">1W</tspan> <tspan x="71.2" font-size="11.5">·</tspan> <tspan x="76.9" textLength="34.0" lengthAdjust="spacingAndGlyphs">Coinbase</tspan></text>
<text x="116.9" y="32.9" font-size="8.8" fill="#131722" stroke="#131722" stroke-width="0.3" font-weight="normal" text-anchor="start" textLength="5.4" lengthAdjust="spacingAndGlyphs">O</text>
<text x="122.7" y="32.9" font-size="8.8" fill="#089981" stroke="#089981" stroke-width="0.3" font-weight="normal" text-anchor="start" textLength="20.7" lengthAdjust="spacingAndGlyphs">2.189</text>
<text x="149.6" y="32.9" font-size="8.8" fill="#131722" stroke="#131722" stroke-width="0.3" font-weight="normal" text-anchor="start" textLength="4.8" lengthAdjust="spacingAndGlyphs">H</text>
<text x="154.8" y="32.9" font-size="8.8" fill="#089981" stroke="#089981" stroke-width="0.3" font-weight="normal" text-anchor="start" textLength="21.0" lengthAdjust="spacingAndGlyphs">2.358</text>
<text x="181.8" y="32.9" font-size="8.8" fill="#131722" stroke="#131722" stroke-width="0.3" font-weight="normal" text-anchor="start" textLength="4.0" lengthAdjust="spacingAndGlyphs">L</text>
<text x="186.5" y="32.9" font-size="8.8" fill="#089981" stroke="#089981" stroke-width="0.3" font-weight="normal" text-anchor="start" textLength="19.8" lengthAdjust="spacingAndGlyphs">1.719</text>
<text x="212.2" y="32.9" font-size="8.8" fill="#131722" stroke="#131722" stroke-width="0.3" font-weight="normal" text-anchor="start" textLength="4.9" lengthAdjust="spacingAndGlyphs">C</text>
<text x="217.5" y="32.9" font-size="8.8" fill="#089981" stroke="#089981" stroke-width="0.3" font-weight="normal" text-anchor="start" textLength="20.8" lengthAdjust="spacingAndGlyphs">2.275</text>
<text x="244.2" y="32.9" font-size="8.8" fill="#089981" stroke="#089981" stroke-width="0.3" font-weight="normal" text-anchor="start" textLength="60.8" lengthAdjust="spacingAndGlyphs">+0.086 (+3.93%)</text>
<rect x="980.7" y="22.4" width="33.1" height="18.5" rx="2.5" fill="#fff"/>
<text x="987.4" y="35.3" font-size="8.8" fill="#131722" stroke="#131722" stroke-width="0.3" font-weight="normal" text-anchor="start" textLength="14.6" lengthAdjust="spacingAndGlyphs">USD</text>
<text x="984.7" y="58.4" font-size="8.8" fill="#131722" stroke="#131722" stroke-width="0.3" font-weight="normal" text-anchor="start" textLength="25.5" lengthAdjust="spacingAndGlyphs">10.000</text>
<text x="984.5" y="132.9" font-size="8.8" fill="#131722" stroke="#131722" stroke-width="0.3" font-weight="normal" text-anchor="start" textLength="21.3" lengthAdjust="spacingAndGlyphs">8.000</text>
<text x="984.5" y="171.2" font-size="8.8" fill="#131722" stroke="#131722" stroke-width="0.3" font-weight="normal" text-anchor="start" textLength="21.3" lengthAdjust="spacingAndGlyphs">7.000</text>
<text x="984.5" y="209.1" font-size="8.8" fill="#131722" stroke="#131722" stroke-width="0.3" font-weight="normal" text-anchor="start" textLength="21.3" lengthAdjust="spacingAndGlyphs">6.000</text>
<text x="984.5" y="246.6" font-size="8.8" fill="#131722" stroke="#131722" stroke-width="0.3" font-weight="normal" text-anchor="start" textLength="21.3" lengthAdjust="spacingAndGlyphs">5.000</text>
<text x="984.5" y="284.3" font-size="8.8" fill="#131722" stroke="#131722" stroke-width="0.3" font-weight="normal" text-anchor="start" textLength="21.3" lengthAdjust="spacingAndGlyphs">4.000</text>
<text x="984.5" y="434.9" font-size="8.8" fill="#131722" stroke="#131722" stroke-width="0.3" font-weight="normal" text-anchor="start" textLength="21.3" lengthAdjust="spacingAndGlyphs">0.000</text>
<rect x="955" y="87.1" width="22.8" height="12.1" fill="#E3EEFB"/>
<rect x="978.9" y="87.1" width="30.6" height="12.1" fill="#E3EEFB"/>
<text x="957.8" y="96.0" font-size="8.8" fill="#131722" stroke="#131722" stroke-width="0.3" font-weight="normal" text-anchor="start" textLength="17.1" lengthAdjust="spacingAndGlyphs">High</text>
<text x="984.5" y="96.2" font-size="8.8" fill="#131722" stroke="#131722" stroke-width="0.3" font-weight="normal" text-anchor="start" textLength="21.3" lengthAdjust="spacingAndGlyphs">9.000</text>
<rect x="956.6" y="398.7" width="21.2" height="11.9" fill="#E3EEFB"/>
<rect x="978.9" y="398.7" width="30.6" height="11.9" fill="#E3EEFB"/>
<text x="959.8" y="407.8" font-size="8.8" fill="#131722" stroke="#131722" stroke-width="0.3" font-weight="normal" text-anchor="start" textLength="14.5" lengthAdjust="spacingAndGlyphs">Low</text>
<text x="984.4" y="407.9" font-size="8.8" fill="#131722" stroke="#131722" stroke-width="0.3" font-weight="normal" text-anchor="start" textLength="21.2" lengthAdjust="spacingAndGlyphs">0.970</text>
<rect x="978.7" y="262" width="30.8" height="12.5" rx="1.1" fill="#4CAF50"/>
<text x="984.5" y="271.5" font-size="8.8" fill="#fff" stroke="#fff" stroke-width="0.3" font-weight="normal" text-anchor="start" textLength="21.3" lengthAdjust="spacingAndGlyphs">4.345</text>
<rect x="978.7" y="311.3" width="30.8" height="12.1" rx="1.1" fill="#FF8412"/>
<text x="984.5" y="320.5" font-size="8.8" fill="#fff" stroke="#fff" stroke-width="0.3" font-weight="normal" text-anchor="start" textLength="21.3" lengthAdjust="spacingAndGlyphs">3.050</text>
<rect x="978.7" y="327.8" width="30.8" height="12.1" rx="1.1" fill="#FF0A1C"/>
<text x="984.5" y="337.0" font-size="8.8" fill="#fff" stroke="#fff" stroke-width="0.3" font-weight="normal" text-anchor="start" textLength="21.3" lengthAdjust="spacingAndGlyphs">2.576</text>
<rect x="978.7" y="340.1" width="35.2" height="22.2" rx="1.1" fill="#089981"/>
<text x="984.7" y="349.5" font-size="8.8" fill="#fff" stroke="#fff" stroke-width="0.3" font-weight="normal" text-anchor="start" textLength="20.8" lengthAdjust="spacingAndGlyphs">2.275</text>
<text x="984.7" y="359.8" font-size="8.8" fill="#fff" stroke="#fff" stroke-width="0.3" font-weight="normal" text-anchor="start" textLength="25.1" lengthAdjust="spacingAndGlyphs" fill-opacity="0.8">2d 12h</text>
<rect x="978.7" y="386.4" width="30.8" height="12.1" rx="1.1" fill="#000"/>
<text x="985.0" y="395.7" font-size="8.8" fill="#fff" stroke="#fff" stroke-width="0.3" font-weight="normal" text-anchor="start" textLength="20.2" lengthAdjust="spacingAndGlyphs">1.051</text>
<text x="215.0" y="470.9" font-size="9" fill="#131722" stroke="#131722" stroke-width="0" font-weight="bold" text-anchor="start" textLength="19.2" lengthAdjust="spacingAndGlyphs">2023</text>
<text x="331.7" y="470.9" font-size="9" fill="#131722" stroke="#131722" stroke-width="0.12" font-weight="normal" text-anchor="start" textLength="10.9" lengthAdjust="spacingAndGlyphs">Jul</text>
<text x="439.8" y="470.9" font-size="9" fill="#131722" stroke="#131722" stroke-width="0" font-weight="bold" text-anchor="start" textLength="19.2" lengthAdjust="spacingAndGlyphs">2024</text>
<text x="556.5" y="470.9" font-size="9" fill="#131722" stroke="#131722" stroke-width="0.12" font-weight="normal" text-anchor="start" textLength="10.9" lengthAdjust="spacingAndGlyphs">Jul</text>
<text x="668.7" y="470.9" font-size="9" fill="#131722" stroke="#131722" stroke-width="0" font-weight="bold" text-anchor="start" textLength="19.2" lengthAdjust="spacingAndGlyphs">2025</text>
<text x="785.2" y="470.9" font-size="9" fill="#131722" stroke="#131722" stroke-width="0.12" font-weight="normal" text-anchor="start" textLength="10.9" lengthAdjust="spacingAndGlyphs">Jul</text>
<text x="893.4" y="470.9" font-size="9" fill="#131722" stroke="#131722" stroke-width="0" font-weight="bold" text-anchor="start" textLength="19.2" lengthAdjust="spacingAndGlyphs">2026</text>
<rect x="14.6" y="424.4" width="172.5" height="25.8" fill="#fff" fill-opacity="0.5"/>
<g transform="translate(43,430.2) scale(0.65)"><path d="M12 21.5 C4 15 0.8 11.5 0.8 7 C0.8 3.3 3.6 0.8 6.7 0.8 C8.9 0.8 10.9 2 12 4 C13.1 2 15.1 0.8 17.3 0.8 C20.4 0.8 23.2 3.3 23.2 7 C23.2 11.5 20 15 12 21.5 Z" fill="#62D04E" stroke="#3A4F36" stroke-width="1.6" stroke-linejoin="round"/><path d="M4.2 6.2 C4.6 4.6 5.8 3.6 7.2 3.5" fill="none" stroke="#B9F0A8" stroke-width="1.5" stroke-linecap="round"/></g>
<text x="62.1" y="442.4" font-size="14.2" fill="#B2646A" stroke="#B2646A" stroke-width="0.3" font-weight="normal" text-anchor="start" textLength="98.1" lengthAdjust="spacingAndGlyphs">Yash_Jain_1309</text>
<circle cx="864.5" cy="430.4" r="7" fill="#fff" stroke="#9C27B0" stroke-width="1.25"/>
<path d="M866.3 426.4 L861.6 431.3 L864.2 431.3 L862.6 434.8 L867.4 429.7 L864.8 429.7 Z" fill="#9C27B0"/>
<circle cx="869.5" cy="425.5" r="3" fill="#FEF1D6"/><circle cx="869.5" cy="425.5" r="1.9" fill="#F23645"/>
<circle cx="864.3" cy="448" r="7.3" fill="#fff" stroke="#F23645" stroke-width="1.25"/>
<defs><clipPath id="fc"><circle cx="864.3" cy="448" r="5.8"/></clipPath></defs>
<g clip-path="url(#fc)"><rect x="858" y="442" width="13" height="12" fill="#fff"/>
<rect x="858" y="444.4" width="13" height="1.5" fill="#EF5350"/>
<rect x="858" y="447.1" width="13" height="2.3" fill="#EF5350"/>
<rect x="858" y="451.7" width="13" height="2.0" fill="#EF5350"/>
<rect x="858" y="442" width="7.1" height="8" fill="#42A5F5"/></g>
<g transform="translate(8.9,491.5) scale(0.577)" fill="#131722"><path d="M14 22H7V11H0V4h14v18zM28 22h-8l7.5-18h8L28 22z"/><circle cx="20" cy="8" r="4"/></g>
<text x="35.8" y="504.1" font-size="14.3" fill="#131722" stroke="#131722" stroke-width="0" font-weight="bold" text-anchor="start" textLength="85.9" lengthAdjust="spacingAndGlyphs">TradingView</text>
</svg>
</body></html>
